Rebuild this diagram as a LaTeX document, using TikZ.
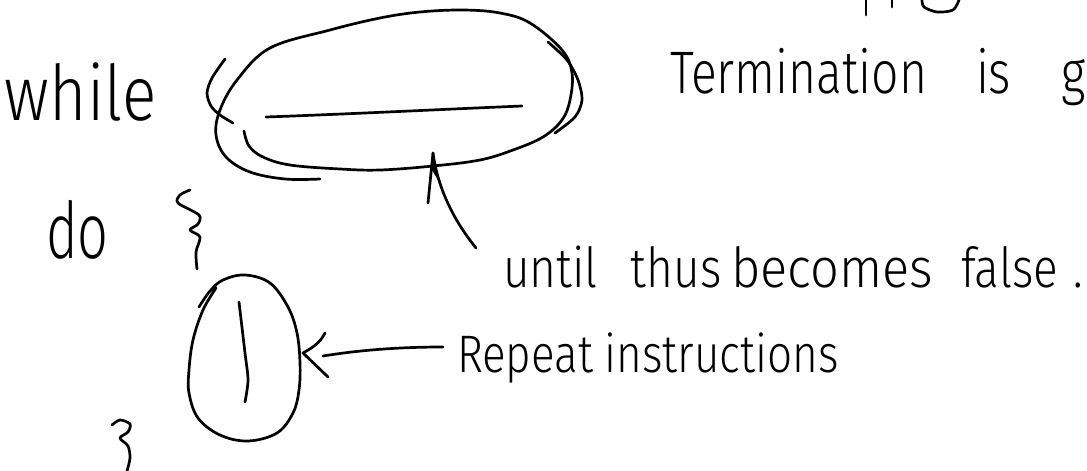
\documentclass[tikz,border=0pt]{standalone}
\usepackage{fontspec}
\setmainfont{Fira Sans}[UprightFont=* Light]
\tikzset{
  hand/.style={draw=black, line width=2.7pt, line cap=round, line join=round},
  txt/.style={anchor=base west, inner sep=0pt, outer sep=0pt},
}
\newcommand{\tall}[2][1.2]{\scalebox{1}[#1]{#2}}
\begin{document}
\begin{tikzpicture}[x=1pt,y=-1pt]
\useasboundingbox (0,0) rectangle (1087,471);
\fill[white] (0,0) rectangle (1087,471);

% texts
\node[txt, font=\fontsize{64}{64}\selectfont] (while) at (5,120) {\tall[1.2]{while}};
\node[txt, font=\fontsize{54}{54}\selectfont] (do) at (46,258) {\tall[1.45]{do}};
\node[txt, font=\fontsize{48}{48}\selectfont] (term) at (670,93)
  {\tall[1.25]{\makebox[306pt][l]{Termination }\makebox[86pt][l]{is }g}};
\node[txt, font=\fontsize{46}{46}\selectfont] (until) at (503,287)
  {\tall{\makebox[128pt][l]{until }\makebox[100pt][l]{thus }\makebox[230pt][l]{\scalebox{1.1}[1]{becomes} }\makebox[113pt][l]{false }.}};
\node[txt, font=\fontsize{44}{44}\selectfont] (repeat) at (457,372)
  {\tall{\makebox[148pt][l]{Repeat }instructions}};

% cut-off strokes at the top edge
\draw[hand] (866,0) -- (866,15);
\draw[hand] (892,0) -- (892,7);
\draw[hand] plot[smooth] coordinates {(922,0) (924,7) (937,12) (953,10) (959,0)};

% condition: parentheses, loop and blank
\draw[hand] plot[smooth] coordinates {(225,59) (212,78) (207,93) (211,106) (220,115) (233,123)};
\draw[hand] plot[smooth] coordinates {(548,42) (567,60) (578,80) (582,100) (575,117) (555,133)};
\draw[hand] plot[smooth, tension=0.6] coordinates {
  (244,131) (249,146) (263,157) (290,165) (340,169) (380,170) (433,166) (480,160)
  (513,150) (543,137) (562,120) (570,100) (572,73) (562,50) (530,23) (500,13)
  (463,10) (420,12) (380,18) (330,30) (270,48) (237,80) (220,110) (216,135)
  (226,157) (250,172) (285,179) (320,179)};
\draw[hand] (266,117) .. controls (350,114) and (450,109) .. (522,106);
\coordinate (condtip) at (433,153);

% arrow from "until ..." up to the condition
\coordinate (untilend) at (476,248);
\draw[hand] (untilend) .. controls (455,222) and (438,190) .. (condtip);
\draw[hand] (condtip) -- (428,203);
\fill (condtip) -- (432,170) -- (438,180) -- cycle;

% braces
\draw[hand] plot[smooth] coordinates {(190,190) (180,195) (178,203) (199,215) (198,224) (190,230) (200,237) (196,252) (197,269)};
\draw[hand] plot[smooth] coordinates {(112,425) (120,420) (130,424) (128,432) (120,438) (128,446) (130,458) (127,471)};

% body: egg loop with a mark inside
\draw[hand] plot[smooth, tension=0.6] coordinates {
  (199,307) (210,291) (223,280) (245,275) (270,283) (288,307) (297,333) (300,363)
  (299,390) (293,413) (277,433) (248,441) (220,435) (198,418) (189,393) (189,370)
  (193,340) (203,310) (216,288)};
\draw[hand] plot[smooth] coordinates {(239,302) (245,353) (248,380) (245,402)};
\coordinate (bodytip) at (303,353);

% arrow from "Repeat instructions" to the body
\coordinate (repeatstart) at (443,347);
\draw[hand] (repeatstart) .. controls (400,347) and (360,350) .. (323,356);
\draw[hand] (325,333) .. controls (320,343) and (312,348) .. (bodytip) -- (328,377);
\end{tikzpicture}
\end{document}
